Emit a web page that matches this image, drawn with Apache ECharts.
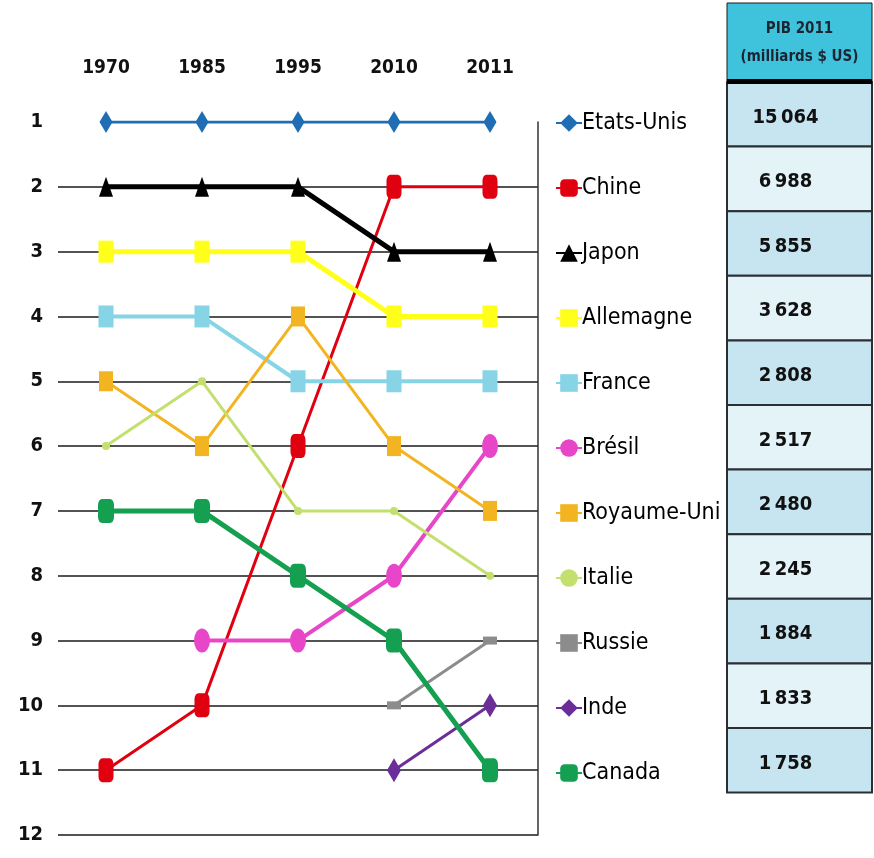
<!DOCTYPE html>
<html>
<head>
<meta charset="utf-8">
<script src="https://cdn.jsdelivr.net/npm/echarts@6/dist/echarts.min.js"></script>
<style>
  html, body { margin: 0; padding: 0; background: #fff; }
  #rangPib { width: 874px; height: 858px; }
</style>
</head>
<body>
<div id="rangPib"></div>
<script>
// years on the top axis
const years = ['1970', '1985', '1995', '2010', '2011']
const rankTicks = [1, 2, 3, 4, 5, 6, 7, 8, 9, 10, 11, 12]

// rank of each country per year (null = not in the top 11)
const etatsUnis = [1, 1, 1, 1, 1]
const chine = [11, 10, 6, 2, 2]
const japon = [2, 2, 2, 3, 3]
const allemagne = [3, 3, 3, 4, 4]
const france = [4, 4, 5, 5, 5]
const bresil = [null, 9, 9, 8, 6]
const royaumeUni = [5, 6, 4, 6, 7]
const italie = [6, 5, 7, 7, 8]
const russie = [null, null, null, 10, 9]
const inde = [null, null, null, 11, 10]
const canada = [7, 7, 8, 9, 11]

// PIB 2011 table
const pibHeader = ['PIB 2011', '(milliards $ US)']
const pib2011 = [15064, 6988, 5855, 3628, 2808, 2517, 2480, 2245, 1884, 1833, 1758]

const narrow = '"DejaVu Sans Condensed", "Liberation Sans Narrow", sans-serif'

function line(name, data, color, symbol, size, width) {
  return {
    name: name,
    type: 'line',
    data: data,
    symbol: symbol,
    symbolSize: size,
    showAllSymbol: true,
    connectNulls: false,
    itemStyle: { color: color },
    lineStyle: { color: color, width: width },
    emphasis: { disabled: true },
    z: 3
  }
}

const chart = echarts.init(document.getElementById('rangPib'))

const series = [
  line('Etats-Unis', etatsUnis, '#1f6db3', 'diamond', [13, 22], 3),
  line('Chine', chine, '#e00010', 'roundRect', [15, 24], 3),
  line('Japon', japon, '#000000', 'triangle', [14, 20], 5),
  line('Allemagne', allemagne, '#ffff1a', 'rect', [15, 22], 5),
  line('France', france, '#86d4e6', 'rect', [15, 22], 4),
  line('Brésil', bresil, '#e846c8', 'circle', [16, 24], 4),
  line('Royaume-Uni', royaumeUni, '#f3b421', 'rect', [14, 20], 3),
  line('Italie', italie, '#c3df6e', 'circle', [8, 8], 3),
  line('Russie', russie, '#8c8c8c', 'rect', [14, 8], 3),
  line('Inde', inde, '#6a2d9a', 'diamond', [14, 24], 3),
  line('Canada', canada, '#14a050', 'roundRect', [16, 24], 5)
]

// hide the gridline at rank 1, keep the others dark
const splitColors = rankTicks.map((r, i) => i === 0 ? 'rgba(0,0,0,0)' : '#1a1a1a')

// table built from pib2011
const tableLeft = 727
const tableRight = 872
const headTop = 3
const headBottom = 82
const rowH = 64.6
const graphics = []
graphics.push({
  type: 'rect',
  shape: { x: tableLeft, y: headTop, width: tableRight - tableLeft, height: headBottom - headTop },
  style: { fill: '#3fc3dc', stroke: '#1a1a1a', lineWidth: 1 }
})
pibHeader.forEach((t, i) => {
  graphics.push({
    type: 'text',
    x: (tableLeft + tableRight) / 2,
    y: 29 + i * 28,
    style: { text: t, fill: '#1b2533', font: 'bold 15px ' + narrow, align: 'center', verticalAlign: 'middle' }
  })
})
pib2011.forEach((v, i) => {
  const y = headBottom + i * rowH
  graphics.push({
    type: 'rect',
    shape: { x: tableLeft, y: y, width: tableRight - tableLeft, height: rowH },
    style: { fill: i % 2 === 0 ? '#c6e5f0' : '#e4f3f8', stroke: '#2a2f33', lineWidth: 2 }
  })
  const s = String(v).replace(/\B(?=(\d{3})+(?!\d))/g, '\u2009')
  graphics.push({
    type: 'text',
    x: (tableLeft + tableRight) / 2 - 14,
    y: y + rowH / 2 + 3,
    style: { text: s, fill: '#111', font: 'bold 20px ' + narrow, align: 'center', verticalAlign: 'middle' }
  })
})
graphics.push({
  type: 'rect',
  shape: { x: tableLeft, y: headBottom - 3, width: tableRight - tableLeft, height: 5 },
  style: { fill: '#000' }
})

chart.setOption({
  backgroundColor: '#ffffff',
  animation: false,
  grid: { left: 58, right: 336, top: 122, bottom: 23 },
  legend: {
    orient: 'vertical',
    left: 550,
    top: 106,
    itemWidth: 26,
    itemHeight: 22,
    itemGap: 41,
    selectedMode: false,
    textStyle: { fontFamily: narrow, fontSize: 23, lineHeight: 24, color: '#000', padding: [0, 0, 0, -5] },
    data: series.map(s => s.name)
  },
  xAxis: {
    type: 'category',
    position: 'top',
    data: years,
    axisLine: { show: false },
    axisTick: { show: false },
    axisLabel: { margin: 44, color: '#111', fontFamily: narrow, fontWeight: 'bold', fontSize: 19 }
  },
  yAxis: [
    {
      type: 'value',
      inverse: true,
      min: 1,
      max: 12,
      interval: 1,
      axisLine: { show: false },
      axisTick: { show: false },
      axisLabel: { margin: 15, color: '#111', fontFamily: narrow, fontWeight: 'bold', fontSize: 20 },
      splitLine: { show: true, lineStyle: { color: splitColors, width: 1.5 } }
    },
    {
      type: 'value',
      position: 'right',
      inverse: true,
      min: 1,
      max: 12,
      interval: 1,
      axisLine: { show: true, lineStyle: { color: '#333', width: 1.5 } },
      axisTick: { show: false },
      axisLabel: { show: false },
      splitLine: { show: false }
    }
  ],
  series: series,
  graphic: graphics
})
</script>
</body>
</html>
